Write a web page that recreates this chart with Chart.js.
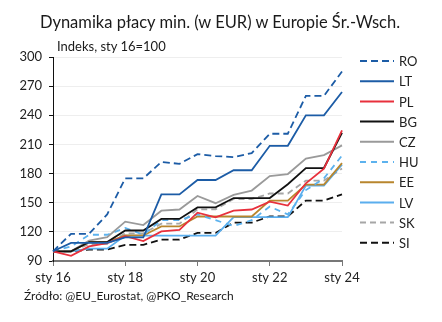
<!DOCTYPE html>
<html lang="pl">
<head>
<meta charset="utf-8">
<title>Dynamika płacy min.</title>
<script src="https://cdn.jsdelivr.net/npm/chart.js@4.4.1/dist/chart.umd.min.js"></script>
<style>
  html, body { margin: 0; padding: 0; background: #fff; }
  #wrap { position: relative; width: 442px; height: 322px; font-family: Lato, "Open Sans", sans-serif; color: #1a1a1a; }
  #chart { position: absolute; left: 0; top: 0; }
  .title { position: absolute; left: 0; width: 440px; top: 12px; text-align: center; font-size: 16.5px; }
  .subtitle { position: absolute; left: 57px; top: 38px; font-size: 13px; }
  .source { position: absolute; left: 24px; top: 288px; font-size: 12px; }
</style>
</head>
<body>
<div id="wrap">
  <canvas id="chart" width="442" height="322"></canvas>
  <div class="title">Dynamika płacy min. (w EUR) w Europie Śr.-Wsch.</div>
  <div class="subtitle">Indeks, sty 16=100</div>
  <div class="source">Źródło: @EU_Eurostat, @PKO_Research</div>
</div>
<script>
// Half-yearly observations, Jan 2016 = 100
const periods = ['sty 16', 'lip 16', 'sty 17', 'lip 17', 'sty 18', 'lip 18', 'sty 19', 'lip 19',
                 'sty 20', 'lip 20', 'sty 21', 'lip 21', 'sty 22', 'lip 22', 'sty 23', 'lip 23', 'sty 24'];

const ro = [100, 118, 118, 138, 175, 175, 192, 190, 200, 198, 197, 201, 221, 221, 260, 260, 285];
const lt = [100, 108.6, 108.6, 108.6, 114.3, 114.3, 158.6, 158.6, 173.4, 173.4, 183.4, 183.4, 208.6, 208.6, 240, 240, 264];
const pl = [100, 95.4, 105, 108.5, 115.5, 110.5, 120.5, 122, 139.8, 135, 141.8, 143, 151, 147, 170, 185, 224.5];
const bg = [100, 100, 109.5, 109.5, 121.4, 121.4, 133.3, 133.3, 145.2, 145.2, 154.8, 154.8, 154.8, 169, 185.7, 185.7, 222];
const cz = [100, 100, 111, 114.5, 130.5, 127, 141.8, 143, 157, 149.5, 158, 162.5, 177.5, 179.5, 195.5, 199, 209];
const hu = [100, 105, 117, 117, 124, 117, 132, 132, 138, 132, 126, 132, 146, 138, 163, 175, 198.5];
const ee = [100, 100, 109.3, 109.3, 116.3, 116.3, 125.6, 125.6, 135.8, 135.8, 135.8, 135.8, 152.1, 152.1, 168.6, 168.6, 190.7];
const lv = [100, 100, 102.7, 102.7, 116.2, 116.2, 116.2, 116.2, 116.2, 116.2, 135.1, 135.1, 135.1, 135.1, 167.6, 167.6, 189.2];
const sk = [100, 100, 107.4, 107.4, 118.5, 118.5, 128.4, 128.4, 143.2, 143.2, 153.8, 153.8, 159.5, 159.5, 172.8, 172.8, 185.2];
const si = [100, 100, 101.8, 101.8, 106.6, 106.6, 112.1, 112.1, 118.9, 118.9, 129.5, 129.5, 135.9, 135.9, 152.2, 152.2, 158.6];

const yMin = 90;
const yMax = 300;
const yStep = 30;

const FONT = 'Lato, "Open Sans", sans-serif';

function series(label, data, color, dash) {
    return {
        label,
        data,
        borderColor: color,
        backgroundColor: color,
        borderWidth: 1.8,
        borderDash: dash || [],
        pointRadius: 0,
        tension: 0,
        fill: false
    };
}

// Legend drawn as short line samples to the right of the plot
const sideLegend = {
    id: 'sideLegend',
    afterDraw(chart) {
        const ctx = chart.ctx;
        const x0 = chart.chartArea.right + 18;
        chart.data.datasets.forEach((ds, i) => {
            const y = 61 + i * 20.2;
            ctx.save();
            ctx.strokeStyle = ds.borderColor;
            ctx.lineWidth = 2;
            ctx.setLineDash(ds.borderDash);
            ctx.beginPath();
            ctx.moveTo(x0, y);
            ctx.lineTo(x0 + 34, y);
            ctx.stroke();
            ctx.setLineDash([]);
            ctx.fillStyle = '#222';
            ctx.font = '13px ' + FONT;
            ctx.textBaseline = 'middle';
            ctx.fillText(ds.label, x0 + 39, y + 1);
            ctx.restore();
        });
    }
};

new Chart(document.getElementById('chart'), {
    type: 'line',
    data: {
        labels: periods,
        datasets: [
            series('RO', ro, '#1c5ca6', [7, 4]),
            series('LT', lt, '#1c5ca6'),
            series('PL', pl, '#e8303c'),
            series('BG', bg, '#111111'),
            series('CZ', cz, '#9a9a9a'),
            series('HU', hu, '#5cb2ee', [6, 5]),
            series('EE', ee, '#b8862e'),
            series('LV', lv, '#5aaeee'),
            series('SK', sk, '#a6a6a6', [6, 4]),
            series('SI', si, '#111111', [7, 4])
        ]
    },
    options: {
        responsive: false,
        animation: false,
        layout: { padding: { top: 57, right: 100, bottom: 31, left: 0 } },
        plugins: {
            legend: { display: false },
            title: { display: false },
            tooltip: { enabled: false }
        },
        scales: {
            x: {
                type: 'category',
                offset: false,
                afterFit: (scale) => { scale.height = 30; },
                afterBuildTicks: (scale) => {
                    scale.ticks = scale.ticks.filter((t, i) => i % 4 === 0);
                },
                grid: { drawOnChartArea: false, drawTicks: true, tickLength: 5, tickColor: '#777' },
                border: { color: '#777', width: 2 },
                ticks: {
                    autoSkip: false,
                    maxRotation: 0,
                    padding: 4,
                    color: '#222',
                    font: { family: FONT, size: 13 }
                }
            },
            y: {
                min: yMin,
                max: yMax,
                afterFit: (scale) => { scale.width = 53; },
                grid: { color: '#eeeeee', lineWidth: 1, drawTicks: true, tickLength: 4, tickColor: '#111' },
                border: { color: '#111', width: 1 },
                ticks: {
                    stepSize: yStep,
                    padding: 7,
                    color: '#222',
                    font: { family: FONT, size: 13 }
                }
            }
        }
    },
    plugins: [sideLegend]
});
</script>
</body>
</html>
